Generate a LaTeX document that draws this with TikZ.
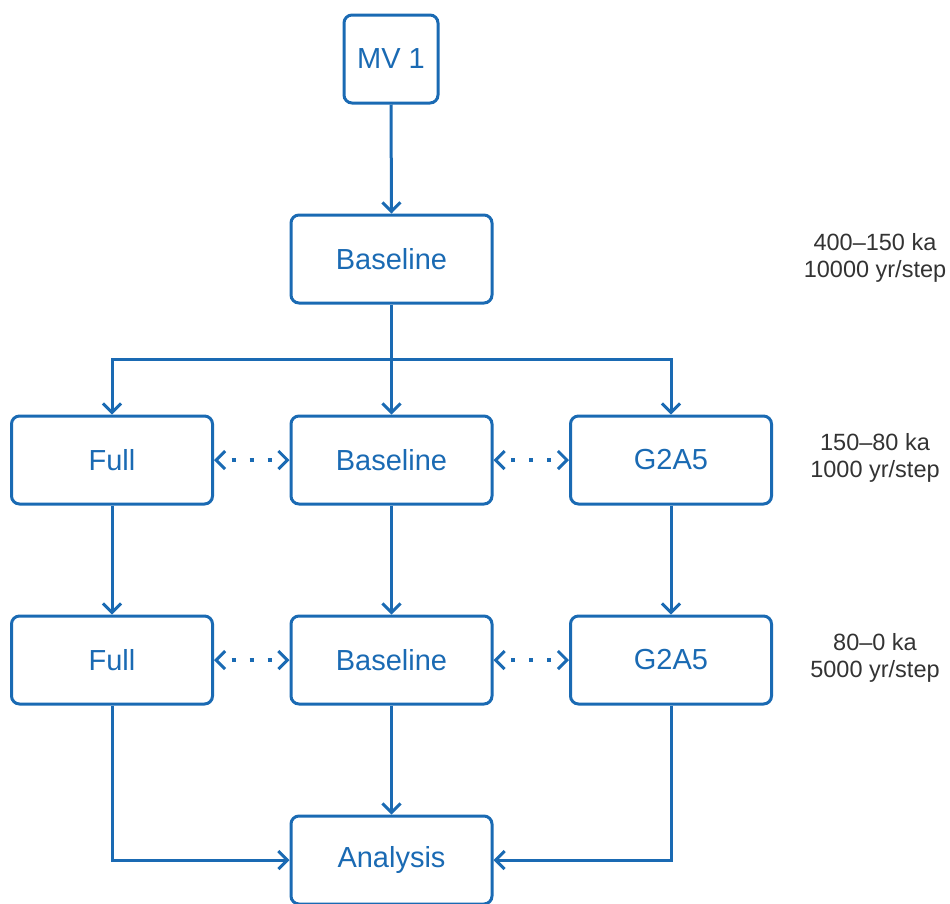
\documentclass[tikz,border=0pt]{standalone}
\usepackage{fontspec}
\setmainfont{Liberation Sans}
\usetikzlibrary{arrows.meta}
\definecolor{bl}{HTML}{1A6AB3}
\definecolor{gr}{HTML}{333333}
\tikzset{
  box/.style={draw=bl, line width=3pt, rounded corners=8pt, text=bl, font=\fontsize{29}{32}\selectfont, minimum height=88pt, minimum width=201pt, inner sep=0pt},
  conn/.style={draw=bl, line width=3pt, -{Straight Barb[length=9pt,width=18pt,line width=3pt]}},
  dconn/.style={draw=bl, line width=3.5pt, dash pattern=on 4pt off 14pt, dash phase=-14pt, {Straight Barb[length=9pt,width=18pt,line width=3pt]}-{Straight Barb[length=9pt,width=18pt,line width=3pt]}},
  side/.style={text=gr, font=\fontsize{23.5}{27}\selectfont, align=center}
}
\begin{document}
\begin{tikzpicture}[x=1pt,y=-1pt]
\useasboundingbox (0,0) rectangle (950,903);
\node[box, minimum width=94pt] (mv) at (391,59) {MV 1};
\node[box] (b1) at (391.5,259) {Baseline};
\node[box] (f2) at (112,460) {Full};
\node[box] (b2) at (391.5,460) {Baseline};
\node[box] (g2) at (671,460) {G2A5};
\node[box] (f3) at (112,660) {Full};
\node[box] (b3) at (391.5,660) {Baseline};
\node[box] (g3) at (671,660) {G2A5};
\node[box] (an) at (391.5,860) {Analysis};
\node[side] (s1) at (875,258) {400--150 ka\\10000 yr/step};
\node[side] (s2) at (875,458) {150--80 ka\\1000 yr/step};
\node[side] (s3) at (875,658) {80--0 ka\\5000 yr/step};
\coordinate (j) at (391.5,359);
\draw[conn] (mv.south) -- (b1.north);
\draw[conn] (b1.south) -- (b2.north);
\draw[conn] (j) -| (f2.north);
\draw[conn] (j) -| (g2.north);
\draw[conn] (f2.south) -- (f3.north);
\draw[conn] (b2.south) -- (b3.north);
\draw[conn] (g2.south) -- (g3.north);
\draw[conn] (b3.south) -- (an.north);
\draw[conn] (f3.south) |- (an.west);
\draw[conn] (g3.south) |- (an.east);
\draw[dconn] (f2.east) -- (b2.west);
\draw[dconn] (b2.east) -- (g2.west);
\draw[dconn] (f3.east) -- (b3.west);
\draw[dconn] (b3.east) -- (g3.west);
\end{tikzpicture}
\end{document}
